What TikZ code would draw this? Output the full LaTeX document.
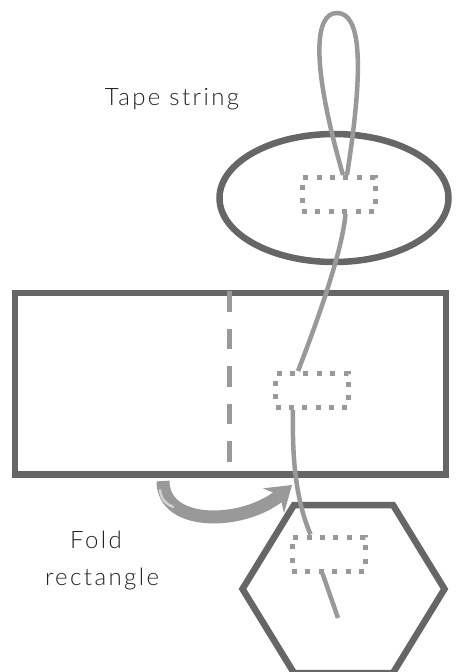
\documentclass[tikz,border=0pt]{standalone}
\usepackage{fontspec}
\newfontfamily\lblfont{Lato}[UprightFont=* Light, LetterSpace=10]
\usetikzlibrary{arrows.meta,shapes.geometric}
\definecolor{dark}{HTML}{666666}
\definecolor{str}{HTML}{999999}
\definecolor{hl}{HTML}{D2D2D2}
\definecolor{ink}{HTML}{222222}
\begin{document}
\begin{tikzpicture}[x=1pt,y=-1pt,
  outline/.style={draw=dark,line width=6.5pt,inner sep=0pt},
  tapebox/.style={shape=rectangle,draw=str,line width=5pt,dash pattern=on 5pt off 8.375pt,
    minimum width=73pt,minimum height=34pt,inner sep=0pt},
  strand/.style={draw=str,line width=4.5pt},
  foldline/.style={draw=str,line width=5pt,dash pattern=on 20.7pt off 16.8pt},
  lbl/.style={font=\lblfont\fontsize{24}{28}\selectfont,text=ink,anchor=base}]
\useasboundingbox (0,0) rectangle (456,672);
% shapes
\node[outline,ellipse,minimum width=229pt,minimum height=128pt] (disc) at (334,198) {};
\node[outline,rectangle,minimum width=431pt,minimum height=181.5pt] (sheet) at (230.5,383.75) {};
\coordinate (h1) at (294,505);
\coordinate (h2) at (393,505);
\coordinate (h3) at (444.5,589);
\coordinate (h4) at (393,673);
\coordinate (h5) at (294,673);
\coordinate (h6) at (242.5,589);
\draw[draw=dark,line width=6.5pt] (h1) -- (h2) -- (h3) -- (h4) -- (h5) -- (h6) -- cycle;
% fold line
\coordinate (foldtop) at (229.5,291);
\coordinate (foldbot) at (229.5,462);
\draw[foldline] (foldtop) -- (foldbot);
% fold arrow
\coordinate (arrstart) at (163,481);
\coordinate (arrend) at (292,485);
\draw[str,line width=13pt,-{Stealth[length=24pt,width=32pt,inset=8pt]}] (arrstart) .. controls (163,528) and (245,525) .. (arrend);
\draw[hl,line width=2.5pt,line cap=round] (160,490) .. controls (161,499) and (166,504) .. (173,507);
% tape boxes
\node[tapebox] (boxA) at (338.5,194.5) {};
\node[tapebox] (boxB) at (312,390.5) {};
\node[tapebox] (boxC) at (328.5,554) {};
% strings
\coordinate (looptop) at (337,13);
\draw[strand] ([xshift=4.5pt]boxA.north) .. controls (310,60) and (315,13) .. (looptop)
  .. controls (360,13) and (365,60) .. ([xshift=8.5pt]boxA.north);
\draw[strand] ([xshift=7pt]boxA.south) .. controls (342,255) and (312,335) .. ([xshift=-14pt]boxB.north);
\draw[strand] ([xshift=-19pt]boxB.south) .. controls (292,460) and (296,500) .. ([xshift=-18pt]boxC.north);
\coordinate (tail) at (338,618);
\draw[strand] ([xshift=-6pt]boxC.south) -- (tail);
% labels
\node[lbl] (tapelbl) at (172,105) {Tape string};
\node[lbl] (foldlbl) at (96,548) {Fold};
\node[lbl] (rectlbl) at (102,585) {rectangle};
\end{tikzpicture}
\end{document}
